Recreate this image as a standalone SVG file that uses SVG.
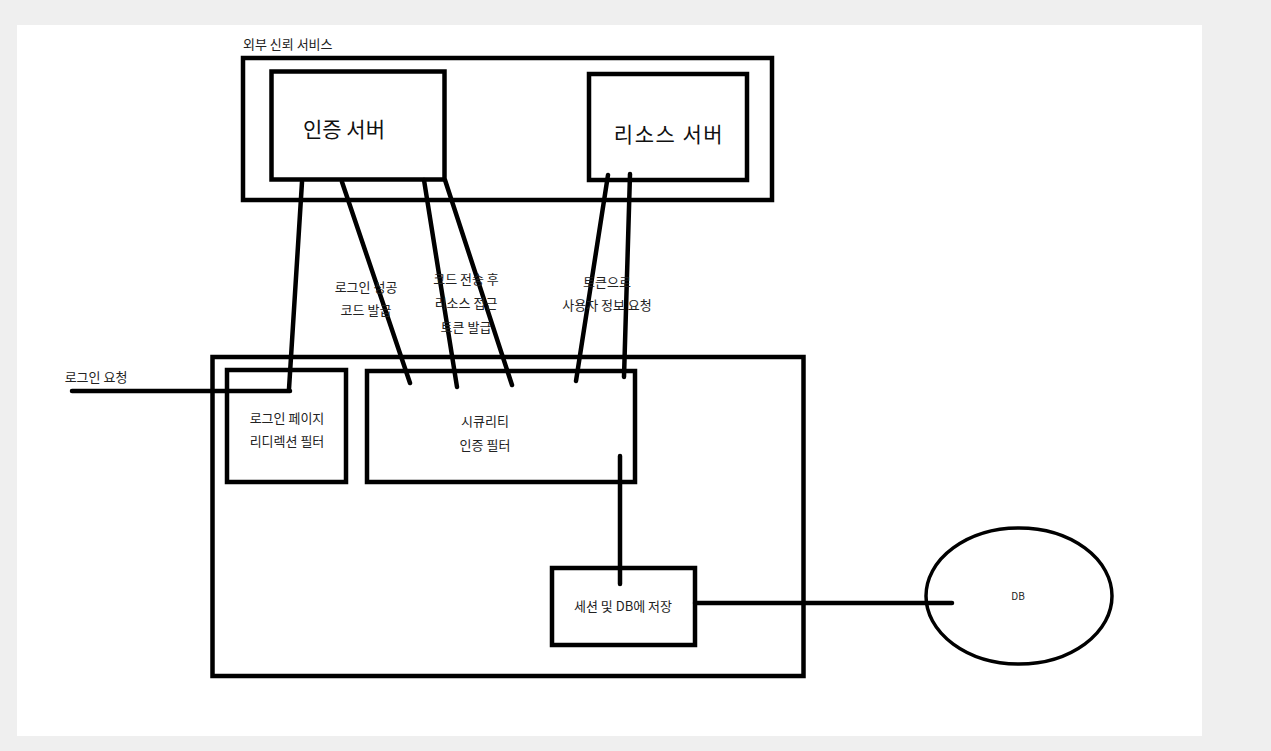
<svg xmlns="http://www.w3.org/2000/svg" width="1271" height="751" viewBox="0 0 1271 751">
<style>
.box{fill:#fff;stroke:#000;stroke-width:4.5}
.frame{fill:none;stroke:#000;stroke-width:4.5}
.ln{stroke:#000;stroke-width:4.5;stroke-linecap:round;fill:none}
text{font-family:"Noto Sans CJK KR","Noto Sans",sans-serif;fill:#222;text-anchor:middle}
.s{font-size:13px}
.b{font-size:21px;fill:#111}
</style>
<rect x="0" y="0" width="1271" height="751" fill="#efefef"/>
<rect x="17" y="25" width="1185" height="711" fill="#fff"/>

<g id="external-service">
  <rect class="frame" x="243" y="58" width="529" height="142"/>
  <text class="s" x="243" y="49" style="text-anchor:start">외부 신뢰 서비스</text>
</g>
<g id="auth-server">
  <rect class="box" x="271.5" y="71.5" width="173" height="108"/>
  <text class="b" x="344" y="137">인증 서버</text>
</g>
<g id="resource-server">
  <rect class="box" x="589" y="74" width="158" height="106"/>
  <text class="b" x="669" y="142" style="letter-spacing:1.5px">리소스 서버</text>
</g>
<g id="app">
  <rect class="frame" x="212.5" y="357" width="591" height="319"/>
</g>
<g id="login-redirect-filter">
  <rect class="box" x="227" y="370" width="119" height="112"/>
  <text class="s" x="287" y="423">로그인 페이지</text>
  <text class="s" x="287" y="446">리디렉션 필터</text>
</g>
<g id="security-filter">
  <rect class="box" x="367" y="371" width="268" height="111"/>
  <text class="s" x="485" y="426">시큐리티</text>
  <text class="s" x="485" y="450">인증 필터</text>
</g>
<g id="session-store">
  <rect class="box" x="552" y="568" width="143" height="77"/>
  <text class="s" x="623" y="611">세션 및 DB에 저장</text>
</g>
<g id="db">
  <ellipse cx="1019" cy="596" rx="93" ry="68" fill="#fff" stroke="#000" stroke-width="3.5"/>
  <text x="1018" y="600" style="font-size:10px">DB</text>
</g>

<g id="connectors">
  <line class="ln" x1="302" y1="182" x2="289" y2="389"/>
  <line class="ln" x1="342" y1="182" x2="410" y2="383"/>
  <line class="ln" x1="424" y1="180" x2="457" y2="387"/>
  <line class="ln" x1="445" y1="180" x2="512" y2="385"/>
  <line class="ln" x1="608" y1="175" x2="576" y2="381"/>
  <line class="ln" x1="630" y1="174" x2="624" y2="377"/>
  <line class="ln" x1="72" y1="391" x2="290" y2="391"/>
  <line class="ln" x1="620" y1="456" x2="620" y2="584"/>
  <line class="ln" x1="695" y1="603" x2="952" y2="603"/>
</g>

<g id="labels">
  <text class="s" x="96" y="382">로그인 요청</text>
  <text class="s" x="366" y="292">로그인 성공</text>
  <text class="s" x="366" y="315">코드 발급</text>
  <text class="s" x="466" y="284">코드 전송 후</text>
  <text class="s" x="466" y="308">리소스 접근</text>
  <text class="s" x="466" y="332">토큰 발급</text>
  <text class="s" x="607" y="287">토큰으로</text>
  <text class="s" x="607" y="310">사용자 정보 요청</text>
</g>
</svg>
